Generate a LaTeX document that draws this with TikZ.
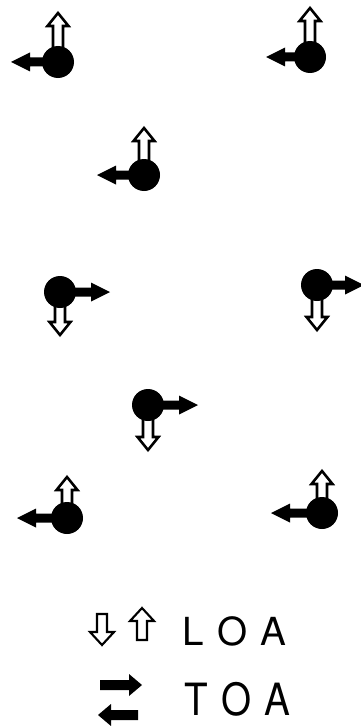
\documentclass[tikz,border=0pt]{standalone}
\usepackage{fontspec}
\setsansfont{TeX Gyre Heros}
\newcommand{\loaarrow}[7]{\draw[#1,shift={#2},rotate=#3] (0,-#5) -- (#4-#7,-#5) -- (#4-#7,-#6) -- (#4,0) -- (#4-#7,#6) -- (#4-#7,#5) -- (0,#5) -- cycle;}
\newcommand{\toaarrow}[6]{\fill[shift={#1},rotate=#2] (0,-#4) -- (#3-#6,-#4) -- (#3-#6,-#5) -- (#3,0) -- (#3-#6,#5) -- (#3-#6,#4) -- (0,#4) -- cycle;}
\begin{document}
\begin{tikzpicture}[x=0.3mm,y=-0.3mm,
  atom/.style={circle,fill=black,inner sep=0pt,minimum size=9.6mm},
  loa/.style={line width=2.2pt,fill=white,line join=miter},
  loakey/.style={line width=1.8pt,fill=white,line join=miter},
  label/.style={font=\sffamily\fontsize{33}{36}\selectfont,inner sep=0pt}]
\useasboundingbox (0,0) rectangle (360,726);
\foreach \n/\x/\y/\a/\l/\b/\t in {1/58/62/90/49/180/47, 2/310/57/90/49/180/44,
  3/144/175/90/47/180/47, 4/60/292/270/43/0/50, 5/317/285/270/45/0/47,
  6/148/405/270/45/0/50, 7/67/518/90/41/180/50, 8/322/513/90/42/180/51}{
  \loaarrow{loa}{(\x,\y)}{\a}{\l}{5}{10.5}{13}
  \toaarrow{(\x,\y)}{\b}{\t}{4.5}{9.5}{19}
  \node[atom] (a\n) at (\x,\y) {};
}
\loaarrow{loakey}{(102,614)}{270}{31}{5}{12}{13}
\loaarrow{loakey}{(142,640)}{90}{32}{5}{12}{13}
\toaarrow{(100,685)}{0}{42}{5}{11}{13}
\toaarrow{(138,715)}{180}{40}{5}{11}{13}
\node[label,anchor=base west] (loa) at (182,645) {L\hspace{4mm}O\hspace{4mm}A};
\node[label,anchor=base west,yscale=1.15,transform shape] (toa) at (184,715) {T\hspace{4mm}O\hspace{4mm}A};
\end{tikzpicture}
\end{document}
